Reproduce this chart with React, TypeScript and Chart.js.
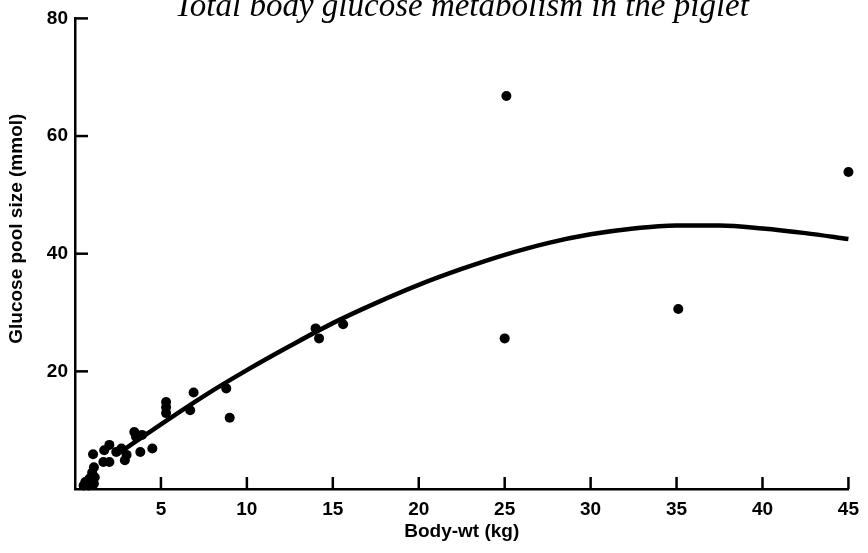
import { useEffect, useRef } from 'react';
import { Chart, registerables } from 'chart.js';

Chart.register(...registerables);

// ---- text ----
const CHART_TITLE = 'Total body glucose metabolism in the piglet';
const X_TITLE = 'Body-wt (kg)';
const Y_TITLE = 'Glucose pool size (mmol)';

// ---- tick values ----
const xTickValues = [5, 10, 15, 20, 25, 30, 35, 40, 45];
const yTickValues = [20, 40, 60, 80];

// ---- observed piglets: body weight (kg) and glucose pool size (mmol) ----
const pigWeight = [
  0.5, 0.8, 1.1, 0.6, 0.85, 1.15, 1.0, 1.1, 1.05,
  1.65, 2.0, 1.7, 2.0, 2.4, 2.7, 2.9, 3.0, 3.45, 3.55, 3.8, 3.9, 4.5,
  5.3, 5.3, 5.3, 6.7, 6.9, 8.8, 9.0,
  14.0, 14.2, 15.6,
  25.1, 25.0, 35.1, 45.0,
];
const poolSize = [
  0.6, 0.6, 0.9, 1.2, 1.8, 2.0, 2.8, 3.7, 5.9,
  4.6, 4.6, 6.6, 7.5, 6.3, 6.9, 4.9, 5.8, 9.7, 8.9, 6.3, 9.2, 6.9,
  14.8, 13.9, 12.9, 13.4, 16.4, 17.1, 12.1,
  27.3, 25.6, 28.0,
  66.8, 25.6, 30.6, 53.9,
];

// ---- fitted curve ----
const fitWeight = [2.5, 5, 7.5, 10, 12.5, 15, 17.5, 20, 22.5, 25, 27.5, 30, 32.5, 35, 37.5, 40, 42.5, 45];
const fitPool = [6.0, 11.0, 15.8, 20.2, 24.3, 28.2, 31.6, 34.7, 37.4, 39.8, 41.8, 43.3, 44.3, 44.8, 44.8, 44.3, 43.5, 42.5];

const SANS = "'Liberation Sans', Arial, Helvetica, sans-serif";
const SERIF = "'Liberation Serif', 'Times New Roman', serif";

const decorPlugin = {
  id: 'decor',
  afterDraw(chart: any) {
    const { ctx, chartArea } = chart;
    const xs = chart.scales.x;
    const ys = chart.scales.y;
    ctx.save();
    ctx.strokeStyle = '#000';
    ctx.lineWidth = 2.5;
    ctx.lineCap = 'butt';
    for (const v of xTickValues) {
      const px = xs.getPixelForValue(v);
      ctx.beginPath();
      ctx.moveTo(px, chartArea.bottom);
      ctx.lineTo(px, chartArea.bottom - 12);
      ctx.stroke();
    }
    for (const v of yTickValues) {
      const py = ys.getPixelForValue(v);
      ctx.beginPath();
      ctx.moveTo(chartArea.left, py);
      ctx.lineTo(chartArea.left + 13, py);
      ctx.stroke();
    }
    // chart title (partially cut off at the top, as in the source)
    ctx.fillStyle = '#000';
    ctx.font = `italic 33px ${SERIF}`;
    ctx.textAlign = 'center';
    ctx.textBaseline = 'alphabetic';
    ctx.fillText(CHART_TITLE, (chartArea.left + chartArea.right) / 2, 16);
    // y axis title
    ctx.translate(17, (chartArea.top + chartArea.bottom) / 2 - 25);
    ctx.rotate(-Math.PI / 2);
    ctx.font = `bold 19px ${SANS}`;
    ctx.textBaseline = 'middle';
    ctx.fillText(Y_TITLE, 0, 0);
    ctx.restore();
  },
};

export default function App() {
  const ref = useRef<HTMLCanvasElement>(null);

  useEffect(() => {
    if (!ref.current) return;
    const points = pigWeight.map((w, i) => ({ x: w, y: poolSize[i] }));
    const curve = fitWeight.map((w, i) => ({ x: w, y: fitPool[i] }));
    const tickFont = { family: SANS, size: 19, weight: 'bold' as const };

    const chart = new Chart(ref.current, {
      type: 'scatter',
      data: {
        datasets: [
          {
            type: 'line',
            data: curve,
            borderColor: '#000',
            borderWidth: 4.5,
            pointRadius: 0,
            fill: false,
            cubicInterpolationMode: 'monotone',
            clip: false,
          } as any,
          {
            type: 'scatter',
            data: points,
            backgroundColor: '#000',
            borderColor: '#000',
            pointRadius: 5,
            pointBorderWidth: 0,
            clip: false,
          } as any,
        ],
      },
      options: {
        animation: false,
        responsive: false,
        devicePixelRatio: 1,
        layout: { padding: { top: 17, right: 10, left: 0, bottom: 0 } },
        plugins: {
          legend: { display: false },
          tooltip: { enabled: false },
          title: { display: false },
        },
        scales: {
          x: {
            type: 'linear',
            min: 0,
            max: 45,
            afterBuildTicks: (s: any) => {
              s.ticks = xTickValues.map((v) => ({ value: v }));
            },
            afterFit: (s: any) => {
              s.height = 64;
            },
            grid: { display: false, drawTicks: false },
            border: { display: true, color: '#000', width: 2.5 },
            ticks: { color: '#000', font: tickFont, padding: 9, maxRotation: 0, autoSkip: false },
            title: {
              display: true,
              text: X_TITLE,
              color: '#000',
              font: tickFont,
              padding: { top: 0, bottom: 10 },
            },
          },
          y: {
            type: 'linear',
            min: 0,
            max: 80,
            afterBuildTicks: (s: any) => {
              s.ticks = yTickValues.map((v) => ({ value: v }));
            },
            afterFit: (s: any) => {
              s.width = 75;
            },
            grid: { display: false, drawTicks: false },
            border: { display: true, color: '#000', width: 2.5 },
            ticks: { color: '#000', font: tickFont, padding: 7, autoSkip: false },
          },
        },
      },
      plugins: [decorPlugin],
    } as any);
    return () => chart.destroy();
  }, []);

  return (
    <div style={{ position: 'fixed', left: 0, top: 0, width: 868, height: 553, background: '#fff' }}>
      <canvas ref={ref} width={868} height={553} style={{ display: 'block' }} />
    </div>
  );
}
